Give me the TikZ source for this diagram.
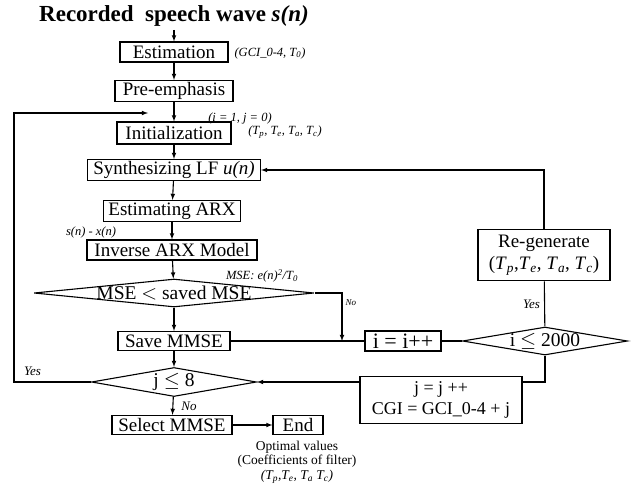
\documentclass[tikz,border=0pt]{standalone}
\usepackage{fontspec}
\setmainfont{Liberation Serif}
\usetikzlibrary{arrows,shapes.geometric}
\newcommand{\Tx}[1]{\textit{T}\textsubscript{\textit{#1}}}

\tikzset{
  box/.style={draw, line width=1.2pt, inner sep=0pt, font=\fontsize{19}{21}\selectfont},
  test/.style={draw, diamond, line width=1.1pt, inner sep=0pt},
  note/.style={font=\itshape\fontsize{12.5}{14}\selectfont, inner sep=0pt},
  flow/.style={-latex, line width=1.1pt},
  wire/.style={line width=1.1pt}
}

\begin{document}
\begin{tikzpicture}[x=1pt, y={(0pt,-1pt)}]
    \useasboundingbox (0,0) rectangle (644,498);
    % Main column
    \node(title) at (174,16) {\fontsize{23}{25}\selectfont\bfseries Recorded\ \ speech wave \textit{s(n)}};
    \node(est)   [box, minimum width=108pt, minimum height=20pt] at (174,52)  {Estimation};
    \node(pre)   [box, minimum width=118pt, minimum height=21pt] at (174,91)  {Pre-emphasis};
    \node(init)  [box, minimum width=114pt, minimum height=22pt] at (174,133) {Initialization};
    \node(synth) [box, minimum width=173pt, minimum height=21pt] at (174,170) {Synthesizing LF \textit{u(n)}};
    \node(arx)   [box, minimum width=137pt, minimum height=21pt] at (172,211) {Estimating ARX};
    \node(inv)   [box, minimum width=170pt, minimum height=20pt] at (172,250) {Inverse ARX Model};
    \node(mse)   [test, minimum width=280pt, minimum height=28pt,
                  label={[font=\fontsize{19.5}{21}\selectfont]center:MSE $<$ saved MSE}] at (174,293) {};
    \node(save)  [box, minimum width=112pt, minimum height=19pt] at (174,341) {Save MMSE};
    \node(jdec)  [test, minimum width=165pt, minimum height=29pt,
                  label={[font=\fontsize{19.5}{21}\selectfont]center:j $\leq$ 8}] at (174,382) {};
    \node(select)[box, minimum width=120pt, minimum height=19pt] at (172,425) {Select MMSE};
    \node(end)   [box, minimum width=50pt,  minimum height=19pt] at (298,425) {End};
    % Right loop
    \node(inc)   [box, minimum width=76pt,  minimum height=20pt, font=\fontsize{22}{22}\selectfont] at (403,341) {i = i++};
    \node(idec)  [test, minimum width=165pt, minimum height=28pt,
                  label={[font=\fontsize{19.5}{21}\selectfont]center:i $\leq$ 2000}] at (545,341) {};
    \node(regen) [box, line width=1.6pt, minimum width=132pt, minimum height=51pt, align=center,
                  font=\fontsize{19}{22}\selectfont] at (544,255) {Re-generate\\(\Tx{p},\Tx{e}, \Tx{a}, \Tx{c})};
    \node(jinc)  [box, minimum width=162pt, minimum height=47pt, align=center,
                  font=\fontsize{18}{21}\selectfont] at (441,400) {j = j ++\\CGI = GCI\_0-4 + j};
    % Side notes
    \node(n1) [note] at (270,53)  {(GCI\_0-4, \Tx{0})};
    \node(n2) [note] at (240,118) {(i = 1, j = 0)};
    \node(n3) [note] at (285,132) {(\Tx{p}, \Tx{e}, \Tx{a}, \Tx{c})};
    \node(n4) [note] at (91,232)  {s(n) - x(n)};
    \node(n5) [note] at (262,276) {MSE: e(n)\textsuperscript{2}/\Tx{0}};
    \node(n6) [note, align=center, font=\fontsize{13.5}{14.5}\selectfont] at (297,462)
              {Optimal values\\(Coefficients of filter)\\\textit{(\Tx{p},\Tx{e}, \Tx{a} \Tx{c})}};
    \coordinate (lft) at (14,113);
    \coordinate (back) at (148,113);
    \coordinate (nojoin) at (342,341);
    % Straight arrows
    \path (title) edge[flow] (est);
    \path (est)   edge[flow] (pre);
    \path (pre)   edge[flow] (init);
    \path (init)  edge[flow] (synth);
    \path (synth) edge[flow] (arx);
    \path (arx)   edge[flow] (inv);
    \path (inv)   edge[flow] (mse);
    \path (mse)   edge[flow] (save);
    \path (save)  edge[flow] (jdec);
    \path (jdec)  edge[flow] node[note, right, xshift=8pt, font=\itshape\fontsize{13}{14}\selectfont] {No} (select);
    \path (select) edge[flow] (end);
    % Loops
    \draw[flow] (mse.east) -| node[note, pos=0.6, right, xshift=3pt, font=\itshape\fontsize{9}{10}\selectfont] {No} (nojoin);
    \draw[wire] (save) -- (inc);
    \draw[wire] (inc) -- (idec);
    \draw[wire] (idec) -- node[note, left, xshift=-4pt, font=\itshape\fontsize{13}{14}\selectfont] {Yes} (regen);
    \draw[flow] (regen.north) |- (synth.east);
    \draw[wire] (idec.south) |- (jdec.east -| jinc.east);
    \draw[flow] (jdec.east -| jinc.west) -- (jdec.east);
    \draw[flow] (jdec.west) -| node[note, pos=0.38, above=6pt, font=\itshape\fontsize{13}{14}\selectfont] {Yes} (lft) -- (back);
\end{tikzpicture}
\end{document}
